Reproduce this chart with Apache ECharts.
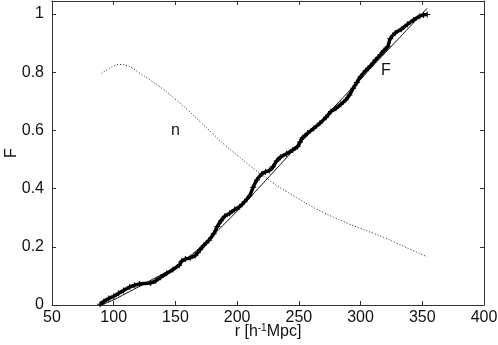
<!DOCTYPE html>
<html>
<head>
<meta charset="utf-8">
<title>F(r)</title>
<script src="https://cdn.jsdelivr.net/npm/echarts/dist/echarts.min.js"></script>
<style>
  html, body { margin: 0; padding: 0; background: #fff; }
  #main { width: 498px; height: 345px; }
</style>
</head>
<body>
<div id="main"></div>
<script>
var rF = [89, 92, 96, 100, 104, 108, 113, 117, 121, 130, 134, 138, 143, 148, 153, 155, 158, 162, 166, 168,
  170, 173, 177, 181, 184, 187, 190, 194, 198, 202, 206, 210, 213, 216, 220, 223, 226, 229, 232, 235,
  240, 245, 249, 251, 253, 257, 262, 267, 272, 276, 280, 284, 288, 291, 294, 297, 300, 304, 308, 312,
  316, 319, 322, 324, 328, 333, 338, 343, 348, 351, 354];
var valF = [0.003, 0.012, 0.022, 0.030, 0.040, 0.050, 0.062, 0.068, 0.072, 0.076, 0.083, 0.095, 0.109, 0.122, 0.137, 0.150, 0.158, 0.162, 0.170, 0.180,
  0.190, 0.205, 0.222, 0.245, 0.270, 0.290, 0.305, 0.315, 0.328, 0.338, 0.355, 0.375, 0.405, 0.430, 0.450, 0.458, 0.462, 0.475, 0.495, 0.508,
  0.520, 0.533, 0.545, 0.560, 0.575, 0.590, 0.607, 0.625, 0.645, 0.665, 0.676, 0.690, 0.705, 0.722, 0.745, 0.765, 0.785, 0.805, 0.822, 0.842,
  0.860, 0.875, 0.888, 0.915, 0.935, 0.948, 0.965, 0.980, 0.993, 0.997, 0.999];

// smooth model curve
var rFit = [90, 100, 110, 120, 130, 140, 150, 160, 170, 180, 190, 200, 210, 220, 230, 240, 250, 260, 270, 280, 290, 300, 310, 320, 330, 340, 350, 354];
var valFit = [0.0, 0.018, 0.040, 0.062, 0.085, 0.107, 0.130, 0.162, 0.198, 0.238, 0.280, 0.323, 0.368, 0.414, 0.460, 0.506, 0.552, 0.597, 0.642, 0.687, 0.732, 0.776, 0.822, 0.867, 0.912, 0.957, 1.002, 1.020];

// n(r), dotted
var rN = [90, 95, 100, 105, 110, 115, 120, 130, 140, 150, 160, 170, 180, 190, 200, 210, 220, 230, 240, 250, 260, 270, 280, 290, 300, 310, 320, 330, 340, 350, 354];
var valN = [0.796, 0.810, 0.822, 0.827, 0.824, 0.815, 0.800, 0.772, 0.742, 0.707, 0.670, 0.630, 0.590, 0.550, 0.515, 0.480, 0.448, 0.417, 0.390, 0.365, 0.340, 0.318, 0.298, 0.280, 0.263, 0.247, 0.230, 0.211, 0.192, 0.173, 0.166];

// curve labels
var curveLabels = [['n', 150, 0.60], ['F', 320.5, 0.805]];

var xTicks = [50, 400, 50];   // min, max, step
var yTicks = [0, 1.045, 0.2];

function zip(xs, ys) {
  return xs.map(function (x, i) { return [x, ys[i]]; });
}

var chart = echarts.init(document.getElementById('main'));
var ink = '#111';
var frame = { show: true, onZero: false, lineStyle: { color: '#333', width: 1 } };
var ticks = { show: true, inside: true, length: 4, lineStyle: { color: '#333' } };
var font = 'Liberation Sans, Arial, sans-serif';

function yFmt(v) {
  var k = Math.round(v / yTicks[2]);
  if (Math.abs(v - k * yTicks[2]) > 1e-6) return '';
  return +(k * yTicks[2]).toFixed(1) + '';
}

var option = {
  animation: false,
  grid: { left: 52, right: 14, top: 1, bottom: 40, containLabel: false, outerBoundsMode: 'none' },
  xAxis: [{
    type: 'value', min: xTicks[0], max: xTicks[1], interval: xTicks[2],
    axisLine: frame, axisTick: ticks, splitLine: { show: false },
    axisLabel: { color: ink, fontSize: 16, fontFamily: font, margin: 5 },
    name: 'r [h{sup|-1}Mpc]', nameLocation: 'middle', nameGap: 18, nameMoveOverlap: false,
    nameTextStyle: { color: ink, fontSize: 16, fontFamily: font,
      rich: { sup: { fontSize: 10, fontFamily: font, color: ink, verticalAlign: 'top', padding: [0, 0, 8, 0] } } }
  }, {
    type: 'value', position: 'top', min: xTicks[0], max: xTicks[1], interval: xTicks[2],
    axisLine: frame, axisTick: ticks, axisLabel: { show: false }, splitLine: { show: false }
  }],
  yAxis: [{
    type: 'value', min: yTicks[0], max: yTicks[1], interval: yTicks[2],
    axisLine: frame, axisTick: ticks, splitLine: { show: false },
    axisLabel: { color: ink, fontSize: 16, fontFamily: font, margin: 8, formatter: yFmt, showMaxLabel: false },
    name: 'F', nameLocation: 'middle', nameGap: 32, nameRotate: 90, nameMoveOverlap: false,
    nameTextStyle: { color: ink, fontSize: 16, fontFamily: font }
  }, {
    type: 'value', position: 'right', min: yTicks[0], max: yTicks[1], interval: yTicks[2],
    axisLine: frame, axisTick: ticks, axisLabel: { show: false }, splitLine: { show: false }
  }],
  series: [
    {
      name: 'n', type: 'line', data: zip(rN, valN), smooth: true, symbol: 'none',
      lineStyle: { color: '#222', width: 1, type: [1, 2] }
    },
    {
      name: 'fit', type: 'line', data: zip(rFit, valFit), smooth: true, symbol: 'none',
      lineStyle: { color: '#000', width: 1 }
    },
    {
      name: 'F', type: 'line', data: zip(rF, valF), smooth: 0.3,
      symbol: 'path://M0,2.5h6v1h-6zM2.5,0h1v6h-1z', symbolSize: 6, showSymbol: true,
      itemStyle: { color: '#000' },
      lineStyle: { color: '#000', width: 3.5 }
    },
    {
      name: 'labels', type: 'scatter', symbolSize: 1,
      data: curveLabels.map(function (d) { return { value: [d[1], d[2]], name: d[0] }; }),
      itemStyle: { color: 'rgba(0,0,0,0)', opacity: 1 },
      label: { show: true, position: 'inside', formatter: '{b}', color: ink, fontSize: 16, fontFamily: font }
    }
  ]
};

if (option && typeof option === 'object') {
  chart.setOption(option, true);
}
</script>
</body>
</html>
